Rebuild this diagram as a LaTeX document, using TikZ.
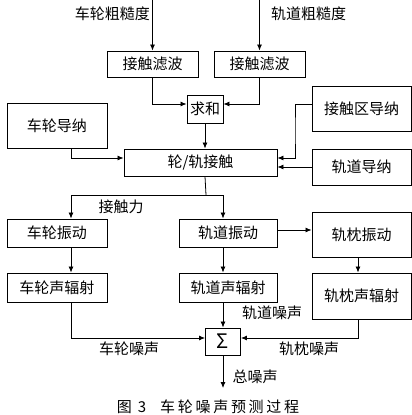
\documentclass[tikz,border=0pt]{standalone}
\usepackage{fontspec}
\setmainfont{Noto Sans CJK SC}
\newfontfamily\capfont[LetterSpace=18]{Noto Sans CJK SC}
\usetikzlibrary{arrows.meta}

\begin{document}
\begin{tikzpicture}[x=1pt, y=1pt, >={Latex[length=6pt,width=5pt]},
    box/.style={draw, line width=0.9pt, inner sep=0pt, font=\fontsize{15}{18}\selectfont},
    lbl/.style={inner sep=0pt, font=\fontsize{15}{18}\selectfont},
    line/.style={line width=0.8pt}]
    \useasboundingbox (0,0) rectangle (412,-415);

    % Draw Roughness Inputs and Filters
    \node[lbl, anchor=east] (wrough) at (150,-14) {车轮粗糙度};
    \node[lbl, anchor=west] (trough) at (271,-14) {轨道粗糙度};
    \coordinate (wtop) at (152.5,0);
    \coordinate (ttop) at (259.5,0);
    \node[box, minimum width=91, minimum height=26] (wfilt) at (152.5,-64) {接触滤波};
    \node[box, minimum width=91, minimum height=26] (tfilt) at (259.5,-64) {接触滤波};
    \node[box, minimum width=36, minimum height=28] (sum) at (205,-109) {求和};
    \draw[line, ->] (wtop) -- (wfilt.north);
    \draw[line, ->] (ttop) -- (tfilt.north);
    \draw[line, ->] (wfilt.south) |- ([yshift=5pt]sum.west);
    \draw[line, ->] (tfilt.south) |- ([yshift=5pt]sum.east);

    % Draw Contact Block with Admittances
    \node[box, minimum width=100, minimum height=45] (wadm) at (57,-125.5) {车轮导纳};
    \node[box, minimum width=99, minimum height=45] (cadm) at (361.5,-108.5) {接触区导纳};
    \node[box, minimum width=153, minimum height=27] (contact) at (200.5,-162.5) {轮/轨接触};
    \node[box, minimum width=99, minimum height=36] (tadm) at (361.5,-167) {轨道导纳};
    \coordinate (cabend) at (295,-130);
    \draw[line, ->] (sum.south) -- (sum.south |- contact.north);
    \draw[line, ->] ([xshift=14pt]wadm.south) |- ([yshift=4.5pt]contact.west);
    \draw[line, ->] ([yshift=4.5pt]cadm.west) -| (cabend) |- ([yshift=4.5pt]contact.east);
    \draw[line, ->] (tadm.west) -- (tadm.west -| contact.east);

    % Draw Vibration Blocks
    \node[box, minimum width=100, minimum height=28] (wvib) at (57,-233) {车轮振动};
    \node[box, minimum width=98, minimum height=28] (tvib) at (228,-233) {轨道振动};
    \node[box, minimum width=99, minimum height=45] (svib) at (361.5,-234.5) {轨枕振动};
    \coordinate (split) at (206,-195);
    \node[lbl] (force) at (121,-207) {接触力};
    \draw[line] (contact.south -| sum.south) -- (split);
    \draw[line, ->] (split) -| ([xshift=14pt]wvib.north);
    \draw[line, ->] (split) -| ([xshift=-5pt]tvib.north);
    \coordinate (tvout) at ([yshift=3pt]tvib.east);
    \draw[line, ->] (tvout) -- (tvout -| svib.west);

    % Draw Radiation Blocks
    \node[box, minimum width=100, minimum height=29] (wrad) at (57,-287.5) {车轮声辐射};
    \node[box, minimum width=98, minimum height=29] (trad) at (228,-287.5) {轨道声辐射};
    \node[box, minimum width=99, minimum height=46] (srad) at (361.5,-296) {轨枕声辐射};
    \draw[line, ->] ([xshift=14pt]wvib.south) -- ([xshift=14pt]wrad.north);
    \draw[line, ->] ([xshift=-5pt]tvib.south) -- ([xshift=-5pt]trad.north);
    \draw[line, ->] ([xshift=-3.5pt]svib.south) -- ([xshift=-3.5pt]srad.north);

    % Draw Noise Summation
    \node[box, minimum width=35, minimum height=27, font=\fontsize{20}{22}\selectfont] (total) at (223,-341.5) {Σ};
    \coordinate (out) at (223,-388);
    \draw[line, ->] ([xshift=14pt]wrad.south) |- ([yshift=3.5pt]total.west);
    \draw[line, ->] ([xshift=-5pt]trad.south) -- (total.north);
    \draw[line, ->] ([xshift=-3.5pt]srad.south) |- ([yshift=3.5pt]total.east);
    \draw[line, ->] (total.south) -- (out);
    \node[lbl] (tnoise) at (272,-313) {轨道噪声};
    \node[lbl] (wnoise) at (129,-349) {车轮噪声};
    \node[lbl] (snoise) at (309,-349) {轨枕噪声};
    \node[lbl] (allnoise) at (255,-377) {总噪声};

    % Caption
    \node[inner sep=0pt, font=\capfont\fontsize{15}{18}\selectfont] (caption) at (208,-407)
        {图 3\hspace{14pt}车轮噪声预测过程};
\end{tikzpicture}
\end{document}
